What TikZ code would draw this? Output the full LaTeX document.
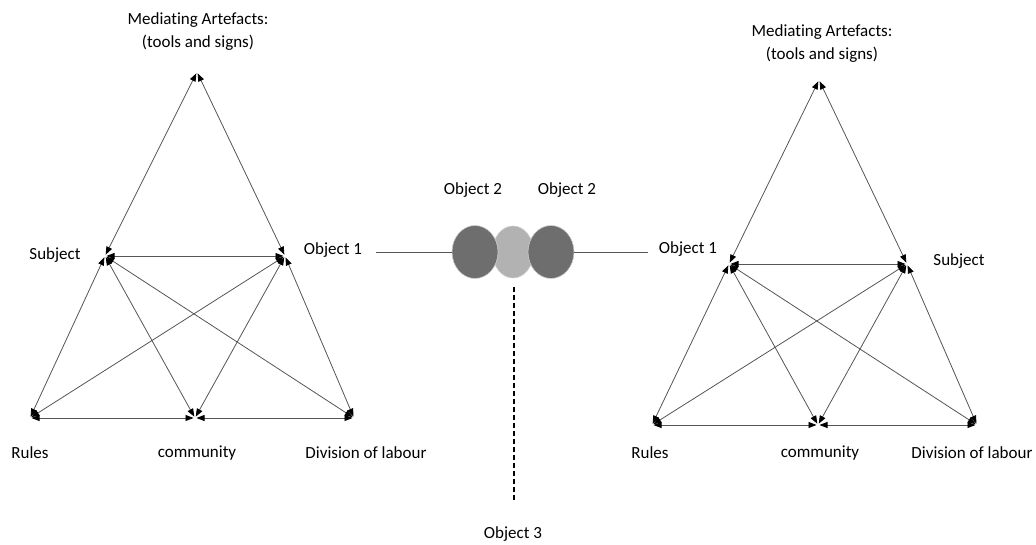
\documentclass[tikz,border=0pt]{standalone}
\usepackage{fontspec}
\setmainfont[Ligatures=NoCommon]{Carlito}
\usetikzlibrary{arrows.meta,shapes.geometric}
\definecolor{edgegray}{HTML}{555555}
\definecolor{blobdark}{HTML}{6E6E6E}
\definecolor{bloblight}{HTML}{B2B2B2}
\tikzset{
  lbl/.style={font=\fontsize{17}{23}\selectfont, inner sep=1pt},
  link/.style={draw=edgegray, line width=0.8pt,
    {Triangle[length=8pt,width=6pt,color=black]}-{Triangle[length=8pt,width=6pt,color=black]},
    shorten <=1.5pt, shorten >=1.5pt},
  plain/.style={draw=edgegray, line width=0.9pt},
  blob/.style={ellipse, draw=white!80!black, line width=0.6pt, minimum width=46pt, minimum height=53pt, inner sep=0pt, outer sep=0pt},
}
\begin{document}
\begin{tikzpicture}[x=1pt,y=-1pt]
\useasboundingbox (0,0) rectangle (1036,545);

% ---- left activity system ----
\coordinate (LA) at (197,72);
\coordinate (LS) at (105,256);
\coordinate (LO) at (285,256);
\coordinate (LR) at (30,418);
\coordinate (LC) at (195,418);
\coordinate (LD) at (354,418);

\node[lbl, align=center] (lmed) at (198,32) {Mediating Artefacts:\\(tools and signs)};
\node[lbl] (lsub) at (55,255) {Subject};
\node[lbl] (lobj) at (333,250) {Object 1};
\node[lbl] (lrul) at (30,453) {Rules};
\node[lbl] (lcom) at (197,453) {community};
\node[lbl] (ldiv) at (366,453) {Division of labour};

\draw[link] (LA) -- (LS);
\draw[link] (LA) -- (LO);
\draw[link] (LS) -- (LO);
\draw[link] (LS) -- (LR);
\draw[link] (LS) -- (LC);
\draw[link] (LS) -- (LD);
\draw[link] (LO) -- (LR);
\draw[link] (LO) -- (LC);
\draw[link] (LO) -- (LD);
\draw[link] (LR) -- (LC);
\draw[link] (LC) -- (LD);

% ---- shared objects in the middle ----
\node[blob, fill=bloblight, minimum width=41pt, minimum height=52pt] (mid) at (513,252) {};
\node[blob, fill=blobdark] (bl) at (475,252) {};
\node[blob, fill=blobdark] (br) at (551,252) {};
\node[lbl] (o2a) at (473,190) {Object 2};
\node[lbl] (o2b) at (567,190) {Object 2};
\node[lbl] (o3) at (513,534) {Object 3};
\coordinate (lineL) at (376,252);
\coordinate (lineR) at (648,252);
\coordinate (dashTop) at (514,287);
\coordinate (dashBot) at (514,500);

\draw[plain] (lineL) -- (bl.west);
\draw[plain] (br.east) -- (lineR);
\draw[black, line width=1.4pt, dash pattern=on 5pt off 3pt] (dashTop) -- (dashBot);

% ---- right activity system ----
\coordinate (RA) at (819,80);
\coordinate (RO) at (729,264);
\coordinate (RS) at (907,264);
\coordinate (RR) at (652,425);
\coordinate (RC) at (818,425);
\coordinate (RD) at (977,425);

\node[lbl, align=center] (rmed) at (822,44) {Mediating Artefacts:\\(tools and signs)};
\node[lbl] (robj) at (688,249) {Object 1};
\node[lbl] (rsub) at (959,261) {Subject};
\node[lbl] (rrul) at (650,453) {Rules};
\node[lbl] (rcom) at (820,453) {community};
\node[lbl] (rdiv) at (972,453) {Division of labour};

\draw[link] (RA) -- (RO);
\draw[link] (RA) -- (RS);
\draw[link] (RO) -- (RS);
\draw[link] (RO) -- (RR);
\draw[link] (RO) -- (RC);
\draw[link] (RO) -- (RD);
\draw[link] (RS) -- (RR);
\draw[link] (RS) -- (RC);
\draw[link] (RS) -- (RD);
\draw[link] (RR) -- (RC);
\draw[link] (RC) -- (RD);
\end{tikzpicture}
\end{document}
